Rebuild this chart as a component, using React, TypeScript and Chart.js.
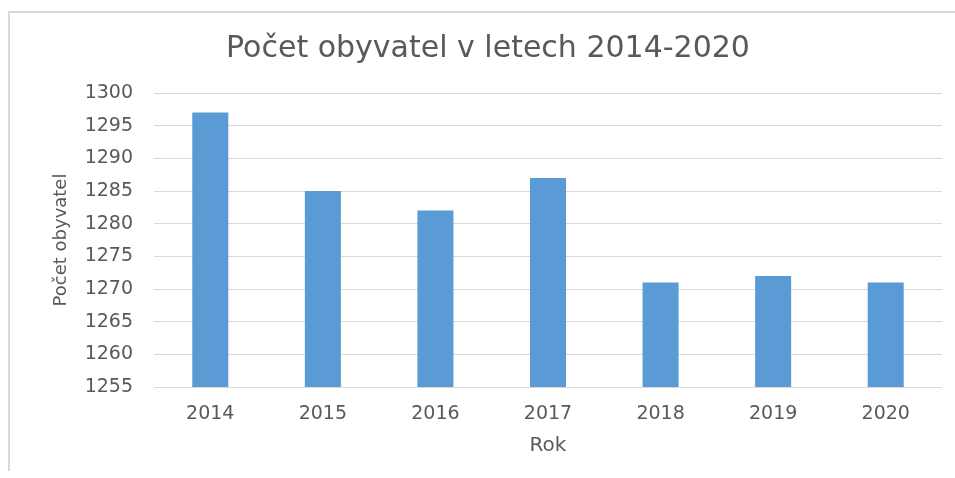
import React, { useEffect, useRef } from "react";
import { Chart, registerables } from "chart.js";

Chart.register(...registerables);

const categories = ["2014", "2015", "2016", "2017", "2018", "2019", "2020"];
const population = [1297, 1285, 1282, 1287, 1271, 1272, 1271];
const chartTitle = "Počet obyvatel v letech 2014-2020";
const yTitle = "Počet obyvatel";
const xTitle = "Rok";
const yMin = 1255;
const yMax = 1300;
const yStep = 5;

const frameBorder = {
  id: "frameBorder",
  beforeDraw(chart: any) {
    const ctx = chart.ctx;
    ctx.save();
    ctx.fillStyle = "#d9d9d9";
    ctx.fillRect(8, 11, 2, 460);
    ctx.fillRect(8, 11, chart.width - 8, 2);
    ctx.restore();
  },
};

export default function App() {
  const ref = useRef<HTMLCanvasElement | null>(null);
  useEffect(() => {
    if (!ref.current) return;
    const textColor = "#595959";
    const fam = "'DejaVu Sans'";
    const chart = new Chart(ref.current, {
      type: "bar",
      data: {
        labels: categories,
        datasets: [
          {
            label: yTitle,
            data: population,
            backgroundColor: "#5B9BD5",
            borderWidth: 0,
            barPercentage: 0.32,
            categoryPercentage: 1,
          },
        ],
      },
      plugins: [frameBorder],
      options: {
        animation: false,
        responsive: false,
        maintainAspectRatio: false,
        layout: { padding: { left: 21, right: 0, top: 0, bottom: 0 } },
        plugins: {
          legend: { display: false },
          tooltip: { enabled: false },
          title: {
            display: true,
            text: chartTitle,
            color: textColor,
            font: { family: fam, size: 30, weight: "normal" },
            padding: { top: 31, bottom: 26 },
          },
        },
        scales: {
          x: {
            grid: { display: false },
            border: { display: false },
            ticks: {
              color: textColor,
              font: { family: fam, size: 19 },
              padding: 8,
              maxRotation: 0,
            },
            title: {
              display: true,
              text: xTitle,
              color: textColor,
              font: { family: fam, size: 20 },
              padding: { top: 0, bottom: 20 },
            },
            afterFit: (s: any) => {
              s.height = 91;
            },
          },
          y: {
            min: yMin,
            max: yMax,
            grid: { color: "#d9d9d9", lineWidth: 1, drawTicks: false },
            border: { display: false },
            ticks: {
              stepSize: yStep,
              color: textColor,
              font: { family: fam, size: 19 },
              padding: 21,
              callback: (v: any) => String(v),
            },
            title: {
              display: true,
              text: yTitle,
              color: textColor,
              font: { family: fam, size: 18 },
              padding: { top: 30, bottom: 0 },
            },
            afterFit: (s: any) => {
              s.width = 133;
            },
          },
          yRightSpacer: {
            type: "linear",
            position: "right",
            display: true,
            min: yMin,
            max: yMax,
            grid: { display: false, drawTicks: false },
            border: { display: false },
            ticks: { display: false },
            afterFit: (s: any) => {
              s.width = 13;
            },
          },
        },
      },
    });
    return () => chart.destroy();
  }, []);

  return (
    <div
      style={{
        position: "fixed",
        left: 0,
        top: 0,
        width: 955,
        height: 478,
        overflow: "hidden",
        background: "#ffffff",
      }}
    >
      <canvas
        ref={ref}
        width={955}
        height={478}
        style={{ position: "absolute", left: 0, top: 0, width: 955, height: 478 }}
      />
    </div>
  );
}
